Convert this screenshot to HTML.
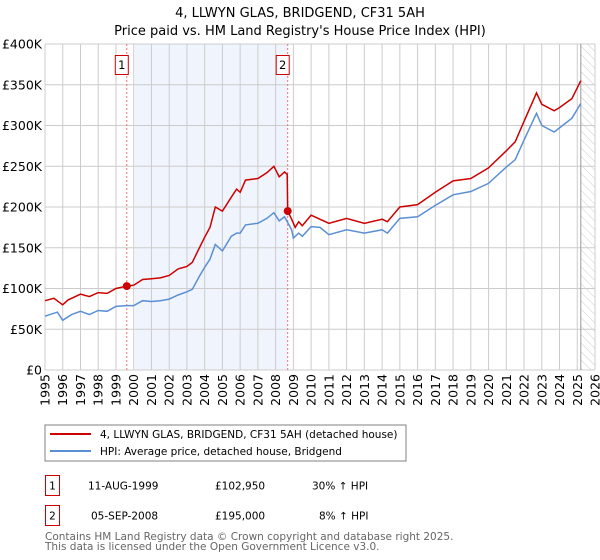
<!DOCTYPE html>
<html><head><meta charset="utf-8"><style>
body{margin:0;background:#fff;font-family:"DejaVu Sans","Liberation Sans",sans-serif;}
svg{display:block}
</style></head><body>
<svg id="chart" width="600" height="560" xmlns="http://www.w3.org/2000/svg" font-family="DejaVu Sans, Liberation Sans, sans-serif">
<defs><pattern id="hatch" width="6" height="6" patternUnits="userSpaceOnUse" patternTransform="rotate(-45)"><line x1="0" y1="0" x2="0" y2="6" stroke="#ccc" stroke-width="1"/></pattern></defs>
<text x="300" y="17" text-anchor="middle" font-size="13">4, LLWYN GLAS, BRIDGEND, CF31 5AH</text>
<text x="300" y="35" text-anchor="middle" font-size="13">Price paid vs. HM Land Registry's House Price Index (HPI)</text>
<g id="plot"></g>
<rect x="45" y="425" width="361" height="36" fill="#fff" stroke="#808080"/>
<line x1="50" y1="434" x2="91" y2="434" stroke="#cc0000" stroke-width="2"/>
<text x="100" y="438" font-size="10.5">4, LLWYN GLAS, BRIDGEND, CF31 5AH (detached house)</text>
<line x1="50" y1="451" x2="91" y2="451" stroke="#5b8fd4" stroke-width="2"/>
<text x="100" y="455" font-size="10.5">HPI: Average price, detached house, Bridgend</text>
<g font-size="10.5">
<rect x="45.5" y="475.5" width="14" height="20" fill="none" stroke="#cc0000"/>
<text x="52.5" y="489.5" text-anchor="middle">1</text>
<text x="88" y="489.5">11-AUG-1999</text>
<text x="215" y="489.5">£102,950</text>
<text x="312" y="489.5">30% ↑ HPI</text>
<rect x="45.5" y="505.5" width="14" height="20" fill="none" stroke="#cc0000"/>
<text x="52.5" y="519.5" text-anchor="middle">2</text>
<text x="91" y="519.5">05-SEP-2008</text>
<text x="215" y="519.5">£195,000</text>
<text x="319" y="519.5">8% ↑ HPI</text>
</g>
<text x="45" y="540" font-size="10.5" fill="#666">Contains HM Land Registry data © Crown copyright and database right 2025.</text>
<text x="45" y="550" font-size="10.5" fill="#666">This data is licensed under the Open Government Licence v3.0.</text>
</svg>
<script>
const hpiYears=[1995,1995.7,1996.0,1996.5,1997,1997.5,1998,1998.5,1999,1999.6,2000,2000.5,2001,2001.5,2002,2002.5,2003,2003.3,2003.7,2004,2004.3,2004.6,2005,2005.5,2005.8,2006,2006.3,2007,2007.5,2007.9,2008.2,2008.5,2008.7,2008.9,2009.0,2009.3,2009.5,2010,2010.5,2011,2012,2013,2014,2014.3,2015,2016,2017,2018,2019,2020,2021,2021.5,2022,2022.7,2023,2023.7,2024,2024.7,2025.2];
const hpiValues=[66,71,61,68,72,68,73,72,78,79,79,85,84,85,87,92,96,99,115,126,136,154,146,164,168,168,178,180,186,193,183,188,180,172,162,168,164,176,175,166,172,168,172,168,186,188,202,215,219,229,249,258,282,315,300,292,297,309,327];
const priceYears=[1995,1995.5,1996.0,1996.3,1997,1997.5,1998,1998.5,1999,1999.6,2000,2000.5,2001,2001.5,2002,2002.5,2003,2003.3,2003.7,2004,2004.3,2004.6,2005,2005.5,2005.8,2006,2006.3,2007,2007.5,2007.9,2008.2,2008.5,2008.65,2008.68,2008.9,2009.1,2009.3,2009.5,2010,2011,2012,2013,2014,2014.3,2015,2016,2017,2018,2019,2020,2021,2021.5,2022,2022.7,2023,2023.7,2024,2024.7,2025.2];
const priceValues=[85,88,80,86,93,90,95,94,100,103,104,111,112,113,116,124,127,132,150,163,175,200,195,212,222,218,233,235,242,250,237,243,240,195,185,175,182,177,190,180,186,180,185,182,200,203,218,232,235,248,269,280,305,340,326,318,322,333,355];
const saleYears=[1999.61,2008.68];
const saleValues=[102.95,195];
const saleLabels=["1","2"];
const yTicks=[0,50,100,150,200,250,300,350,400];
const yTickLabels=["£0","£50K","£100K","£150K","£200K","£250K","£300K","£350K","£400K"];
const xTicks=[1995,1996,1997,1998,1999,2000,2001,2002,2003,2004,2005,2006,2007,2008,2009,2010,2011,2012,2013,2014,2015,2016,2017,2018,2019,2020,2021,2022,2023,2024,2025,2026];

const L=45,R=595,T=44,B=370,X0=1995,X1=2026,YMAX=400;
const xs=v=>L+(v-X0)/(X1-X0)*(R-L);
const ys=v=>B-v/YMAX*(B-T);
const NS="http://www.w3.org/2000/svg";
const g=document.getElementById('plot');
function mk(tag,attrs,parent){const e=document.createElementNS(NS,tag);for(const k in attrs)e.setAttribute(k,attrs[k]);(parent||g).appendChild(e);return e;}

const shade=mk('rect',{x:xs(2000.07),y:T,width:xs(saleYears[1])-xs(2000.07),height:B-T,fill:'#f0f4fd'});


const hatch=mk('rect',{x:xs(2025.2),y:T,width:R-xs(2025.2),height:B-T,fill:'url(#hatch)'});



yTicks.forEach((t,i)=>{
  const ln=mk('line',{x1:L,x2:R,y1:ys(t),y2:ys(t),stroke:'#ccc','stroke-width':1});
  
  
  const tx=mk('text',{x:L-3,y:ys(t)+4.5,'text-anchor':'end','font-size':12.5});
  
  
  tx.textContent=yTickLabels[i];
});
xTicks.forEach(t=>{
  const ln=mk('line',{x1:xs(t),x2:xs(t),y1:T,y2:B,stroke:'#ccc','stroke-width':1});
  
  
  const tx=mk('text',{x:0,y:0,'text-anchor':'end','font-size':12.5,transform:`translate(${xs(t)+4.5},${B+4}) rotate(-90)`});
  
  
  tx.textContent=t;
});
const nowLine=mk('line',{x1:xs(2025.2),x2:xs(2025.2),y1:T,y2:B,stroke:'#999','stroke-width':1});



saleYears.forEach((y,i)=>{
  const ln=mk('line',{x1:xs(y),x2:xs(y),y1:T,y2:B,stroke:'#f07070','stroke-width':1,'stroke-dasharray':'2,2'});
  
  
  const bx=mk('rect',{x:xs(y)-11.5,y:55.5,width:13,height:19,fill:'#fff',stroke:'#cc0000'});
  
  
  const tx=mk('text',{x:xs(y)-5,y:69,'text-anchor':'middle','font-size':11.5});
  
  
  tx.textContent=saleLabels[i];
});

function path(xa,va){return xa.map((x,i)=>(i?'L':'M')+xs(x).toFixed(1)+','+ys(va[i]).toFixed(1)).join('');}
const hp=mk('path',{d:path(hpiYears,hpiValues),fill:'none',stroke:'#5b8fd4','stroke-width':1.5});


const pp=mk('path',{d:path(priceYears,priceValues),fill:'none',stroke:'#cc0000','stroke-width':1.5});


saleYears.forEach((y,i)=>{
  const c=mk('circle',{cx:xs(y),cy:ys(saleValues[i]),r:4,fill:'#cc0000'});
  
  
});
</script>
</body></html>
